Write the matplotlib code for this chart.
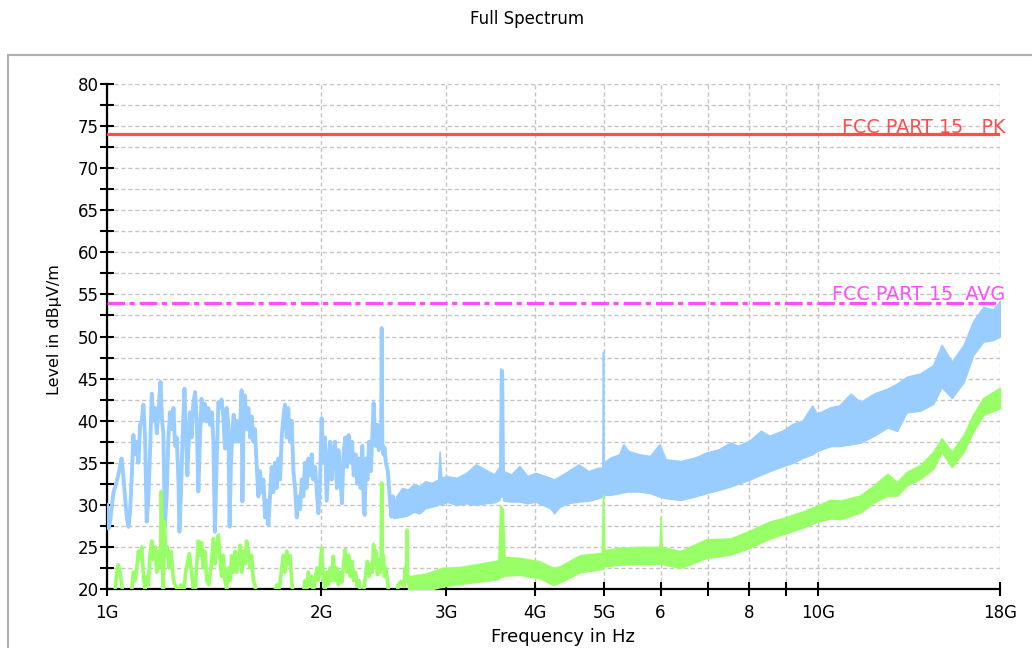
from matplotlib import pyplot as plt
from matplotlib.patches import Rectangle

# Peak trace (blue), low band part 1 - 2.57 GHz, traced point by point
pk_freq = [1.000, 1.005, 1.010, 1.021, 1.030, 1.040, 1.048, 1.054, 1.060, 1.066, 1.072, 1.077,
           1.083, 1.089, 1.095, 1.101, 1.107, 1.113, 1.119, 1.125, 1.131, 1.137, 1.143, 1.149,
           1.156, 1.162, 1.168, 1.175, 1.181, 1.189, 1.195, 1.200, 1.206, 1.213, 1.219, 1.226,
           1.233, 1.240, 1.246, 1.253, 1.260, 1.264, 1.270, 1.277, 1.285, 1.290, 1.297, 1.301,
           1.308, 1.315, 1.322, 1.330, 1.337, 1.344, 1.351, 1.358, 1.366, 1.373, 1.381, 1.388,
           1.396, 1.404, 1.411, 1.418, 1.426, 1.434, 1.442, 1.449, 1.457, 1.465, 1.473, 1.481,
           1.487, 1.493, 1.500, 1.507, 1.513, 1.521, 1.530, 1.538, 1.546, 1.550, 1.556, 1.563,
           1.571, 1.580, 1.589, 1.597, 1.606, 1.614, 1.623, 1.632, 1.641, 1.650, 1.659, 1.668,
           1.677, 1.686, 1.695, 1.704, 1.713, 1.722, 1.732, 1.741, 1.751, 1.760, 1.770, 1.779,
           1.789, 1.798, 1.808, 1.818, 1.828, 1.838, 1.848, 1.858, 1.868, 1.878, 1.888, 1.898,
           1.908, 1.919, 1.929, 1.940, 1.950, 1.961, 1.972, 1.982, 1.993, 2.003, 2.014, 2.025,
           2.036, 2.047, 2.058, 2.069, 2.080, 2.092, 2.104, 2.115, 2.127, 2.139, 2.150, 2.162,
           2.174, 2.186, 2.198, 2.210, 2.222, 2.235, 2.247, 2.260, 2.272, 2.285, 2.296, 2.302,
           2.312, 2.323, 2.336, 2.349, 2.360, 2.370, 2.379, 2.388, 2.400, 2.410, 2.420, 2.428,
           2.433, 2.438, 2.446, 2.455, 2.466, 2.482, 2.496, 2.510, 2.524, 2.538, 2.552, 2.566]
pk_level = [30.0, 27.2, 28.0, 31.5, 32.5, 34.0, 35.5, 33.5, 31.0, 28.5, 27.4, 29.0,
            33.0, 38.3, 36.0, 37.5, 35.0, 39.5, 40.0, 41.9, 38.0, 28.0, 30.5, 36.0,
            43.2, 40.0, 41.5, 38.5, 41.0, 44.6, 40.0, 38.5, 27.6, 31.0, 37.5, 41.0,
            39.0, 41.5, 37.0, 38.0, 33.0, 26.8, 31.0, 38.0, 43.8, 39.0, 33.5, 36.5,
            41.0, 38.0, 42.0, 43.4, 40.0, 31.6, 38.0, 42.6, 40.0, 42.0, 39.9, 41.5,
            39.5, 41.0, 37.5, 26.8, 35.0, 42.2, 41.5, 42.5, 40.5, 36.7, 41.5, 39.5,
            27.4, 34.5, 38.5, 40.7, 37.5, 40.0, 37.5, 39.0, 43.6, 30.4, 40.0, 43.0,
            39.0, 41.5, 38.0, 40.5, 37.5, 39.0, 34.7, 31.0, 34.0, 31.5, 33.0, 28.5,
            30.5, 27.6, 31.0, 34.5, 31.5, 35.0, 32.0, 35.5, 33.0, 38.0, 40.5, 41.9,
            38.0, 41.5, 37.5, 40.0, 34.0, 32.0, 28.5, 31.0, 29.5, 33.0, 31.0, 35.0,
            32.0, 35.5, 33.5, 36.0, 33.0, 34.5, 31.5, 29.0, 33.0, 40.3, 35.0, 38.0,
            30.5, 34.0, 37.5, 33.0, 36.5, 37.5, 32.0, 36.5, 33.5, 30.2, 36.0, 38.0,
            34.5, 38.3, 35.0, 37.5, 33.5, 36.0, 32.5, 35.5, 32.0, 37.0, 29.5, 28.8,
            35.5, 33.0, 37.5, 34.0, 38.0, 42.1, 39.0, 37.0, 39.5, 36.5, 39.0, 37.0,
            51.0, 37.5, 36.0, 36.8, 35.0, 34.0, 31.0, 28.6, 31.0, 28.5, 30.5, 29.0]

# Peak trace, dense part 2.55 - 18 GHz: lower / upper envelope
pk_band_freq = [2.55, 2.60, 2.65, 2.70, 2.75, 2.80, 2.86, 2.92, 2.935, 2.95, 3.00, 3.10, 3.20,
                3.30, 3.40, 3.50, 3.56, 3.57, 3.60, 3.61, 3.70, 3.80, 3.90, 4.00, 4.10, 4.20,
                4.25, 4.33, 4.45, 4.60, 4.75, 4.90, 4.97, 4.98, 4.99, 5.10, 5.25, 5.32, 5.40,
                5.60, 5.80, 5.98, 6.10, 6.40, 6.70, 6.96, 7.25, 7.52, 7.70, 8.00, 8.30, 8.53,
                8.90, 9.20, 9.50, 9.80, 9.95, 10.4, 10.7, 11.1, 11.45, 11.96, 12.5, 12.9, 13.3,
                13.9, 14.5, 14.9, 15.4, 16.0, 16.5, 17.05, 17.6, 18.0]
pk_band_lo = [28.5, 28.6, 28.8, 29.2, 29.0, 29.6, 29.8, 30.0, 30.2, 30.0, 30.4, 30.0, 30.2,
              30.0, 30.2, 30.3, 30.6, 31.0, 31.0, 30.5, 30.4, 30.4, 30.2, 30.4, 30.0, 29.6,
              29.0, 29.8, 30.2, 30.4, 30.5, 30.8, 31.0, 31.0, 31.2, 31.2, 31.4, 31.5, 31.6,
              31.6, 31.4, 31.0, 30.8, 30.6, 31.0, 31.4, 31.8, 32.2, 32.5, 33.0, 33.6, 34.0,
              34.6, 35.0, 35.6, 36.0, 36.4, 37.0, 37.0, 37.2, 37.4, 38.2, 39.2, 38.8, 41.0,
              41.2, 42.0, 44.0, 42.7, 44.6, 47.8, 49.4, 49.6, 50.0]
pk_band_hi = [31.0, 32.0, 31.8, 32.5, 32.2, 32.8, 32.6, 33.0, 36.3, 33.2, 33.4, 33.2, 33.8,
              34.8, 34.2, 33.6, 34.5, 46.2, 46.0, 34.0, 33.6, 34.6, 33.4, 33.8, 33.5, 33.2,
              33.0, 33.4, 34.0, 34.8, 34.0, 34.4, 34.4, 48.2, 35.0, 35.6, 36.0, 37.2, 36.4,
              36.0, 35.8, 37.2, 35.4, 35.2, 35.6, 36.2, 36.6, 37.4, 37.0, 37.6, 38.8, 38.2,
              38.8, 39.6, 40.0, 41.8, 40.8, 41.6, 41.8, 43.2, 42.2, 43.2, 43.8, 44.4, 45.2,
              45.6, 46.6, 49.0, 47.0, 49.0, 51.8, 53.5, 53.2, 54.2]

# Average trace (green), low band part
av_freq = [1.000, 1.026, 1.031, 1.037, 1.043, 1.048, 1.054, 1.060, 1.077, 1.083, 1.089, 1.095,
           1.101, 1.107, 1.113, 1.119, 1.125, 1.131, 1.137, 1.143, 1.149, 1.156, 1.162, 1.168,
           1.175, 1.181, 1.189, 1.192, 1.196, 1.200, 1.204, 1.210, 1.216, 1.222, 1.230, 1.240,
           1.250, 1.260, 1.270, 1.280, 1.290, 1.297, 1.305, 1.315, 1.322, 1.330, 1.337, 1.344,
           1.351, 1.358, 1.366, 1.373, 1.381, 1.390, 1.400, 1.411, 1.418, 1.426, 1.434, 1.442,
           1.449, 1.457, 1.465, 1.473, 1.481, 1.490, 1.497, 1.505, 1.513, 1.521, 1.530, 1.538,
           1.546, 1.555, 1.563, 1.571, 1.580, 1.589, 1.597, 1.606, 1.614, 1.623, 1.632, 1.700,
           1.718, 1.732, 1.741, 1.751, 1.760, 1.770, 1.779, 1.789, 1.798, 1.808, 1.818, 1.828,
           1.838, 1.870, 1.888, 1.898, 1.908, 1.919, 1.929, 1.940, 1.950, 1.961, 1.972, 1.982,
           1.993, 2.003, 2.014, 2.025, 2.036, 2.047, 2.058, 2.069, 2.080, 2.092, 2.104, 2.115,
           2.127, 2.139, 2.150, 2.162, 2.174, 2.186, 2.198, 2.210, 2.222, 2.235, 2.247, 2.260,
           2.272, 2.296, 2.312, 2.323, 2.336, 2.349, 2.360, 2.370, 2.379, 2.388, 2.400, 2.410,
           2.420, 2.428, 2.433, 2.438, 2.446, 2.455, 2.466, 2.482, 2.496, 2.550, 2.566, 2.590,
           2.615, 2.625, 2.636, 2.640, 2.645, 2.660]
av_level = [15.0, 19.5, 21.7, 22.9, 22.0, 20.8, 19.0, 17.0, 17.0, 19.8, 22.0, 21.0,
            22.5, 24.5, 23.5, 25.0, 21.5, 20.0, 21.5, 20.5, 24.0, 25.7, 23.5, 25.0,
            22.0, 24.5, 22.5, 31.6, 26.0, 20.0, 28.0, 24.0, 25.0, 22.5, 24.5, 21.0,
            20.3, 19.5, 20.5, 19.0, 22.0, 23.0, 24.2, 22.0, 20.0, 19.5, 23.0, 25.7,
            24.0, 25.5, 22.5, 24.5, 21.0, 20.5, 22.5, 26.0, 23.0, 25.0, 26.4, 23.5,
            21.5, 24.0, 21.0, 20.0, 22.5, 21.0, 24.0, 22.0, 24.5, 22.0, 23.5, 25.2,
            22.0, 24.5, 23.0, 25.7, 24.5, 22.5, 24.0, 21.0, 20.5, 19.0, 17.0, 17.0,
            19.5, 20.5, 19.5, 20.8, 22.5, 24.0, 22.0, 24.5, 23.0, 24.0, 21.0, 19.0,
            17.0, 17.0, 19.5, 21.0, 20.0, 22.0, 20.5, 21.5, 19.8, 21.0, 22.5, 21.0,
            22.5, 24.9, 21.5, 20.0, 22.0, 20.5, 22.5, 21.0, 23.9, 21.0, 22.5, 20.5,
            22.0, 20.8, 23.0, 24.7, 22.0, 24.0, 21.5, 23.3, 21.0, 22.0, 20.3, 21.0,
            19.5, 19.8, 22.0, 23.3, 21.5, 23.0, 22.0, 25.3, 23.0, 24.5, 21.7, 23.5,
            22.0, 23.0, 32.6, 22.5, 24.0, 21.5, 22.5, 20.5, 18.0, 18.0, 20.5, 20.9,
            20.3, 22.5, 21.0, 27.0, 21.5, 20.5]

# Average trace, dense part: lower / upper envelope
av_band_freq = [2.65, 2.80, 2.96, 3.13, 3.34, 3.55, 3.57, 3.60, 3.62, 3.80, 4.05, 4.24, 4.33,
                4.62, 4.96, 4.98, 5.00, 5.25, 5.60, 5.98, 6.00, 6.02, 6.39, 6.96, 7.52, 8.00,
                8.53, 8.90, 9.50, 9.95, 10.4, 10.73, 11.45, 11.96, 12.5, 12.9, 13.3, 13.9,
                14.5, 14.9, 15.4, 16.0, 16.5, 17.05, 18.0]
av_band_lo = [19.5, 19.8, 20.3, 20.6, 20.9, 21.2, 21.5, 21.5, 21.6, 21.7, 21.3, 20.5, 20.8,
              22.0, 22.4, 22.4, 22.7, 22.9, 23.0, 23.0, 23.2, 23.0, 22.5, 23.7, 24.1, 24.9,
              26.0, 26.5, 27.3, 28.0, 28.4, 28.3, 29.1, 30.3, 31.1, 31.1, 32.3, 33.1,
              34.3, 36.3, 34.5, 36.3, 38.7, 40.7, 41.5]
av_band_hi = [21.5, 21.8, 22.5, 22.6, 23.0, 23.4, 30.0, 29.5, 23.8, 23.7, 23.3, 22.5, 22.7,
              24.0, 24.3, 31.2, 24.6, 24.9, 25.0, 25.0, 28.6, 25.0, 24.5, 25.9, 26.0, 26.9,
              28.0, 28.4, 29.2, 29.9, 30.6, 30.5, 31.1, 32.3, 33.7, 32.7, 33.9, 34.7,
              36.3, 37.9, 36.3, 38.3, 40.7, 42.7, 43.9]

# limit lines
limit_pk = 74
limit_avg = 54

xtick_vals = [1, 2, 3, 4, 5, 6, 7, 8, 9, 10, 18]
xtick_labels = ['1G', '2G', '3G', '4G', '5G', '6', '', '8', '', '10G', '18G']

blue = '#99ccff'
green = '#99ff66'
red = '#ff4d4d'
magenta = '#ff4dff'

fig = plt.figure(figsize=(10.32, 6.48), dpi=100)
ax = fig.add_axes([0.1037, 0.0910, 0.8653, 0.7794])

# frame around the plot region
fig.patches.append(Rectangle((8 / 1032, -0.1), 1.2, 0.1 + 593 / 648, transform=fig.transFigure,
                             fill=False, edgecolor='#b0b0b0', linewidth=1.5))

ax.plot(pk_freq, pk_level, color=blue, linewidth=2.8, zorder=3)
ax.fill_between(pk_band_freq, pk_band_lo, pk_band_hi, color=blue, linewidth=1.2,
                edgecolor=blue, zorder=3)
ax.plot(av_freq, av_level, color=green, linewidth=2.6, zorder=4)
ax.fill_between(av_band_freq, av_band_lo, av_band_hi, color=green, linewidth=1.2,
                edgecolor=green, zorder=4)

ax.axhline(limit_pk, color=red, linewidth=2.3, zorder=5)
ax.axhline(limit_avg, color=magenta, linewidth=2.3, linestyle=(0, (5.5, 1.4, 1.6, 1.6)),
           dash_capstyle='butt', zorder=5)
ax.text(1.006, limit_pk + 0.15, 'FCC PART 15   PK', color=red, fontsize=13.8, ha='right',
        va='baseline', transform=ax.get_yaxis_transform(), zorder=6)
ax.text(1.006, limit_avg + 0.3, 'FCC PART 15  AVG', color=magenta, fontsize=13.8, ha='right',
        va='baseline', transform=ax.get_yaxis_transform(), zorder=6)

ax.set_xscale('log')
ax.set_xlim(1, 18)
ax.set_ylim(20, 80)
ax.set_xticks(xtick_vals)
ax.set_xticklabels(xtick_labels)
ax.xaxis.set_minor_locator(plt.NullLocator())
ax.set_yticks(range(20, 81, 5))
ax.set_yticks([y + 2.5 for y in range(20, 80, 5)], minor=True)

ax.tick_params(axis='both', which='both', direction='inout', length=10, width=1.5,
               labelsize=12, colors='black')
ax.tick_params(axis='x', pad=6)
ax.tick_params(axis='y', pad=1)

ax.grid(True, which='both', color='#c4c4c4', linestyle=(0, (3, 2)), linewidth=1)
ax.set_axisbelow(True)
for side in ['top', 'right']:
    ax.spines[side].set_visible(False)
for side in ['left', 'bottom']:
    ax.spines[side].set_linewidth(1.6)

fig.text(527 / 1032, 1 - 19 / 648, 'Full Spectrum', fontsize=12, ha='center', va='center')
fig.text(563 / 1032, 1 - 637 / 648, 'Frequency in Hz', fontsize=13, ha='center', va='center')
fig.text(55 / 1032, 1 - 330 / 648, 'Level in dBµV/m', fontsize=11.5, ha='center', va='center',
         rotation=90)

plt.savefig('out.png', dpi=100)
